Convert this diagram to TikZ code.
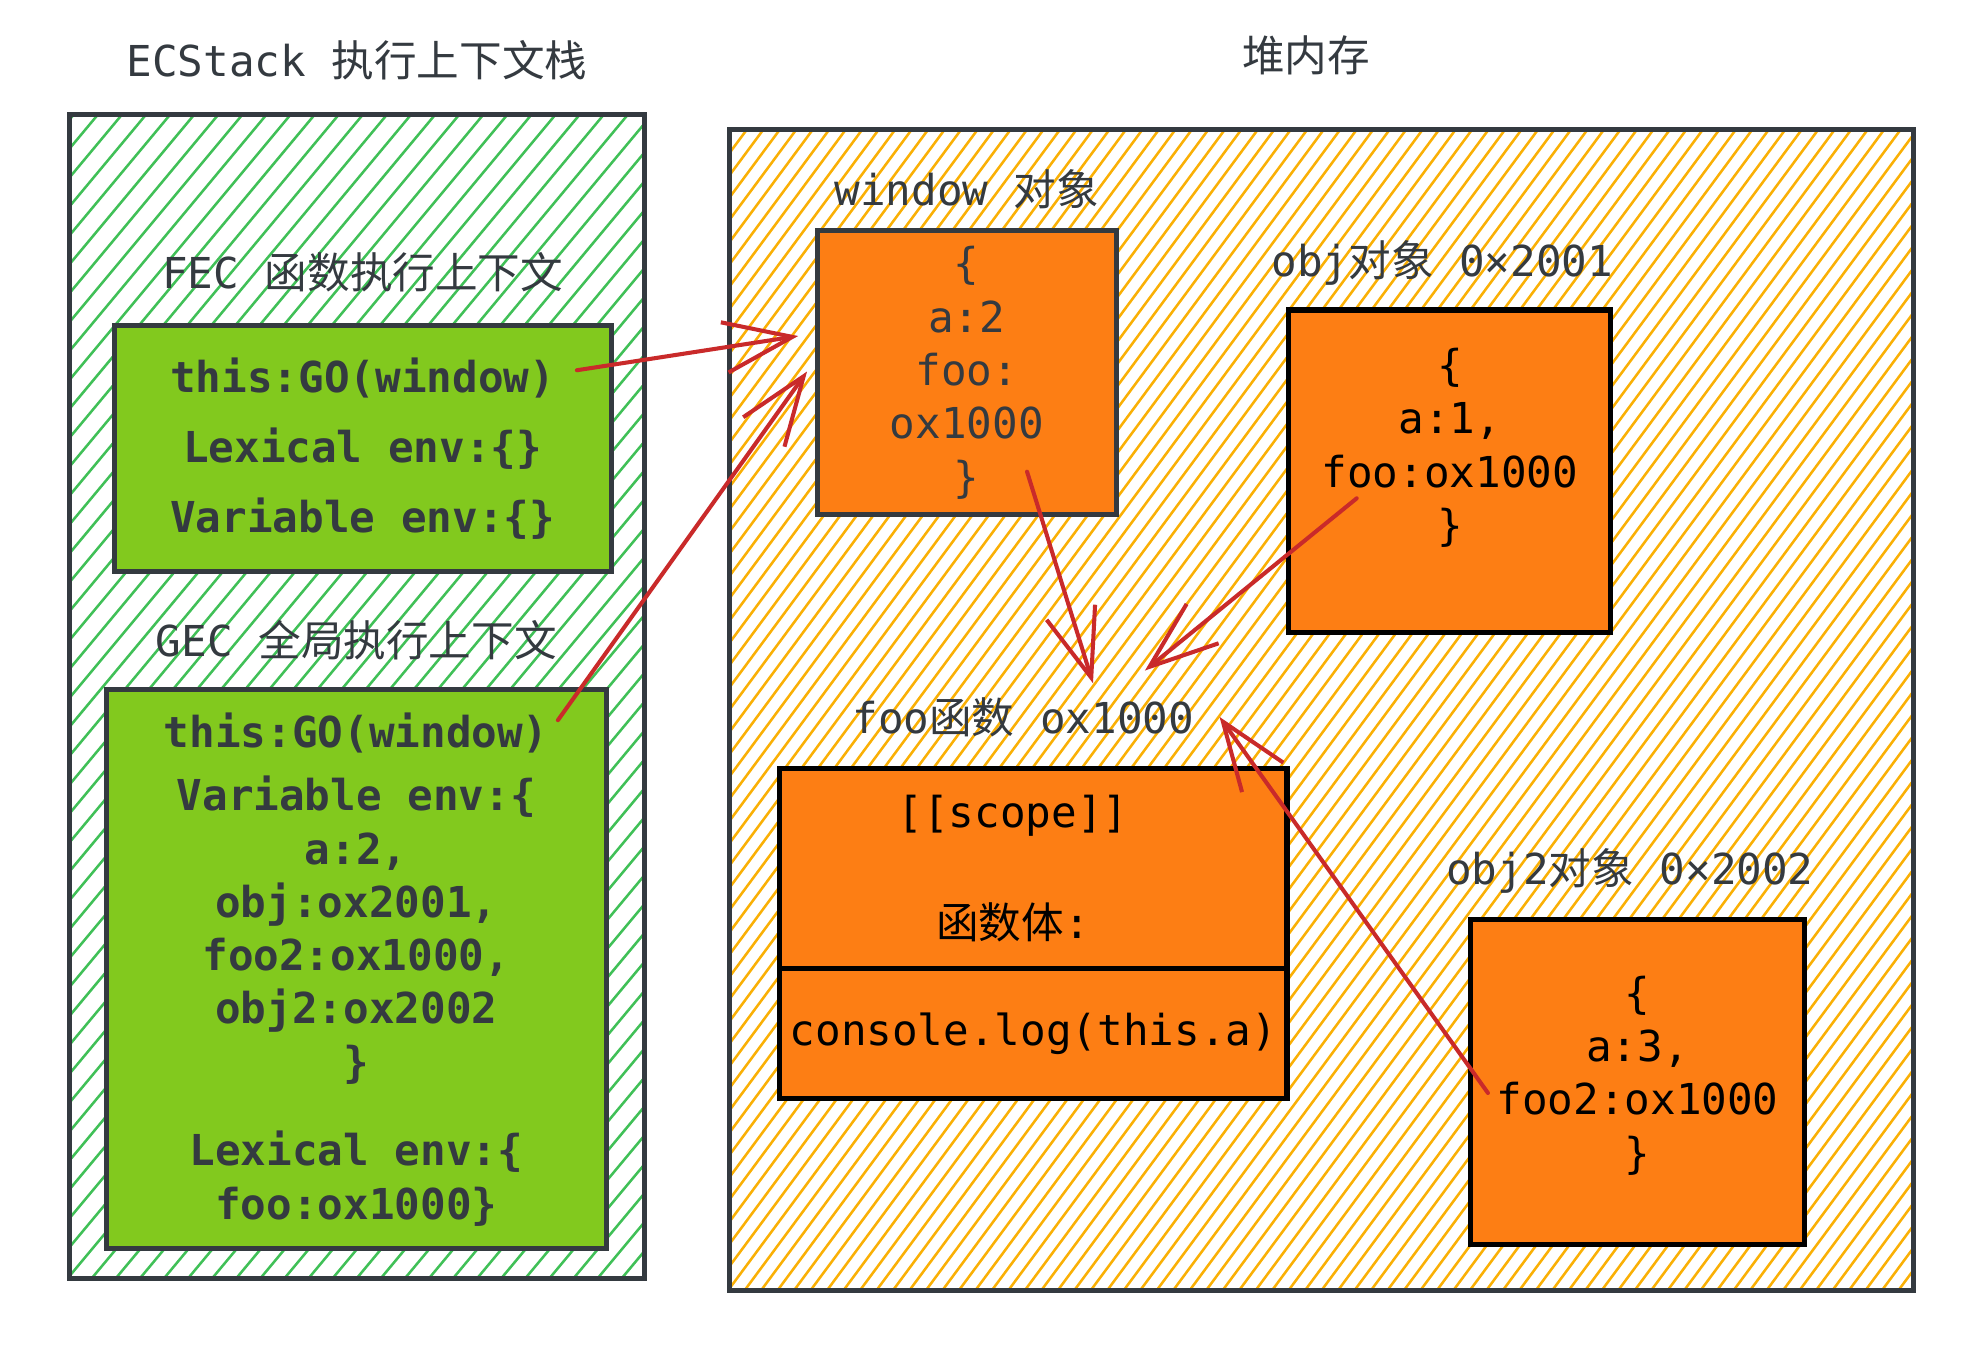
\documentclass[tikz,border=0pt]{standalone}
\usepackage{fontspec}
\setmainfont{DejaVu Sans Mono}
\newfontfamily\cjk{Noto Sans CJK SC}
\newcommand{\zh}[1]{{\cjk #1}}
\usepackage{xcolor}
\usetikzlibrary{positioning,arrows.meta,calc}
\definecolor{ink}{HTML}{343A40}
\definecolor{hatchgreen}{HTML}{40C057}
\definecolor{boxgreen}{HTML}{82C91E}
\definecolor{hatchyellow}{HTML}{FAB005}
\definecolor{boxorange}{HTML}{FD7E14}
\definecolor{arrowred}{HTML}{C92A2A}
\newcommand{\hatchlines}[5]{%
  \foreach \k in {0,...,#5}
    \draw[#1, line width=1pt] ($(path picture bounding box.south west)+(\k*#2-#3,0)$) -- ++(#3,-#4);}

\begin{document}
\begin{tikzpicture}[x=0.5pt,y=-0.5pt,
  font=\fontsize{16.8}{21}\selectfont, text=ink,
  frame/.style={draw=ink, line width=2pt},
  ecbox/.style={draw=ink, line width=2pt, fill=boxgreen, font=\fontsize{16.8}{21}\selectfont\bfseries, align=center},
  heapbox/.style={draw=black, line width=2pt, fill=boxorange, align=center, outer sep=0pt},
  ref/.style={draw=arrowred, line width=1.6pt, line cap=round, -{Straight Barb[length=27pt,width=20pt]}}]
\useasboundingbox (0,0) rectangle (1560,1082);
\node[frame, minimum width=227pt, minimum height=459pt,
  path picture={\hatchlines{hatchgreen}{19}{780}{936}{66}}] (stack) at (281.5,549) {};
\node[frame, minimum width=467pt, minimum height=458pt,
  path picture={\hatchlines{hatchyellow}{13}{690}{932}{127}}] (heap) at (1042,560) {};
\node[above=9pt of stack] (stacktitle) {ECStack \zh{执行上下文栈}};
\node[above=17pt of heap, xshift=-6pt] (heaptitle) {\zh{堆内存}};

\node[ecbox, minimum width=196pt, minimum height=97pt] (fec) at (286,354)
  {this:GO(window)\\[6.5pt]Lexical env:\{\}\\[6.5pt]Variable env:\{\}};
\node[above=9pt of fec] (fectitle) {FEC \zh{函数执行上下文}};
\node[ecbox, minimum width=197pt, minimum height=220.5pt] (gec) at (281,764.5)
  {this:GO(window)\\[4pt]Variable env:\{\\a:2,\\obj:ox2001,\\foo2:ox1000,\\obj2:ox2002\\\}\\[14pt]Lexical env:\{\\foo:ox1000\}};
\node[above=7pt of gec] (gectitle) {GEC \zh{全局执行上下文}};

\node[heapbox, draw=ink, text=ink, minimum width=118pt, minimum height=112pt] (window) at (762.5,294)
  {\{\\a:2\\foo:\\ox1000\\\}};
\node[above=5pt of window] (windowtitle) {window \zh{对象}};
\node[heapbox, text=black, minimum width=127pt, minimum height=127pt] (obj) at (1143.5,371.5)
  {\{\\a:1,\\foo:ox1000\\\}\\\mbox{}};
\node[above=6pt of obj, xshift=-3pt] (objtitle) {obj\zh{对象} 0×2001};
\node[heapbox, text=black, minimum width=200pt, minimum height=79pt] (fooscope) at (815,685)
  {[[scope]]\hspace*{16pt}\\[23pt]\zh{函数体}:\hspace*{16pt}};
\node[heapbox, text=black, minimum width=200pt, minimum height=51pt, below=0pt of fooscope] (foobody)
  {console.log(this.a)};
\node[above=9pt of fooscope, xshift=-4pt] (footitle) {foo\zh{函数} ox1000};
\node[heapbox, text=black, minimum width=132pt, minimum height=128pt] (obj2) at (1291.5,853.5)
  {\{\\a:3,\\foo2:ox1000\\\}\\[-13pt]\mbox{}};
\node[above=7pt of obj2, xshift=-3pt] (obj2title) {obj2\zh{对象} 0×2002};

\draw[ref] ($(fec.east)+(-29,-62)$) -- ($(window.west)+(-15,-29)$);
\draw[ref] ($(gec.north east)+(-40,26)$) -- ($(window.west)+(-8,-1)$);
\draw[ref] ($(window.center)+(47.5,78)$) -- ($(footitle.north)+(55,-4)$);
\draw[ref] ($(obj.center)+(-73.5,21.5)$) -- ($(footitle.north)+(96,-14)$);
\draw[ref] ($(obj2.west)+(14,8.5)$) -- ($(footitle.east)+(13,0)$);
\end{tikzpicture}
\end{document}
